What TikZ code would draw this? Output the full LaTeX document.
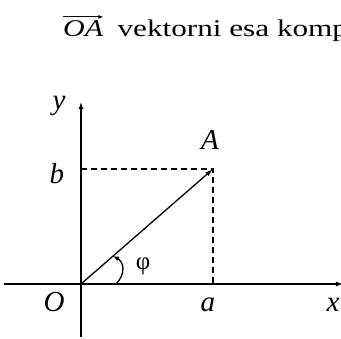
\documentclass[tikz,border=0pt]{standalone}
\usepackage{graphicx}
\usepackage{fontspec}
\setmainfont{Liberation Serif}
\usepackage{tikz}
\usetikzlibrary{
    arrows.meta,
    positioning
}

\tikzset{
    axis/.style={line width=1.3pt,-{Latex[length=7pt,width=5pt]}},
    guide/.style={line width=1.3pt,dash pattern=on 6pt off 4pt},
    lbl/.style={font=\fontsize{29}{31}\selectfont\itshape,inner sep=0pt},
    headtxt/.style={inner sep=0pt,anchor=base west,font=\fontsize{24}{28}\selectfont}
}

\begin{document}
\begin{tikzpicture}[x=1pt,y=1pt]

\useasboundingbox (-81,-55) rectangle (260,284);

\coordinate (O) at (0,0);
\coordinate (A) at (132,115);
\coordinate (Ax) at (132,0);
\coordinate (Ay) at (0,115);

% Heading
\node[headtxt] (OA) at (-18,247) {\scalebox{1.25}[1]{\itshape OA}};
\node[headtxt,right=14pt of OA.base east,anchor=base west] (head)
    {\scalebox{1.3}[1]{vektorni esa komp}};
\draw[line width=1pt,-{Latex[length=5pt,width=4pt]}]
([yshift=4pt]OA.north west) -- ([yshift=4pt]OA.north east);

% Axes
\draw[axis] (-77,0) -- (262,0);
\draw[axis] (0,-53) -- (0,182);

% Guides
\draw[guide] (Ay) -- (A) -- (Ax);

% Vector
\draw[line width=1.3pt,-{Latex[length=8pt,width=5pt]}] (O) -- (A);

% Angle
\draw[line width=1.3pt,-{Latex[length=6pt,width=5pt]}]
(35,0) .. controls (45,10) and (43,22) .. (32,28);

\node[lbl] (ylab) at (-22,178) {y};
\node[lbl] (blab) at (-24,110) {b};
\node[lbl] (alab) at (-27,-18) {O};
\node[lbl] (Alab) at (129,144) {A};
\node[lbl] (xalab) at (127,-21) {a};
\node[lbl] (xlab) at (252,-21) {x};
\node[inner sep=0pt,font=\fontsize{25}{27}\selectfont] (phi) at (62,18) {φ};

\end{tikzpicture}
\end{document}
